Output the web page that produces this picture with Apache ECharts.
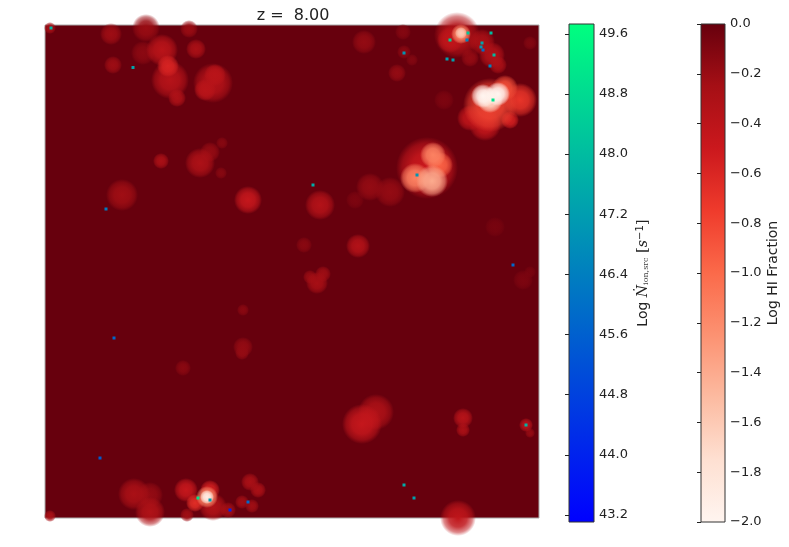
<!DOCTYPE html>
<html>
<head>
<meta charset="utf-8">
<title>z = 8.00</title>
<style>html,body{margin:0;padding:0;background:#fff}#main{width:789px;height:547px}</style>
<script src="https://cdn.jsdelivr.net/npm/echarts@6/dist/echarts.min.js"></script>
</head>
<body>
<div id="main"></div>
<script>
	// ionised bubbles: x, y, radius, log HI fraction (picture coordinates)
	var hiBubbles = [
		[50,28,6,-0.25],[111,34,11,-0.22],[146,28,14,-0.2],[189,29,9,-0.2],[113,65,9,-0.22],
		[143,53,12,-0.15],[162,50,16,-0.38],[170,80,19,-0.36],[168,66,11,-0.58],[177,98,9,-0.3],[196,49,10,-0.28],
		[213,83,20,-0.34],[215,75,11,-0.38],[205,90,11,-0.38],[161,161,8,-0.28],[200,163,15,-0.3],
		[210,152,10,-0.18],[222,143,6,-0.13],[221,173,6,-0.13],[364,42,12,-0.18],[403,32,8,-0.12],
		[404,52,7,-0.14],[412,60,6,-0.11],[397,73,9,-0.18],[457,35,23,-0.35],[450,40,13,-0.42],
		[461,34,10,-1.2],[461,33,6,-1.6],[482,42,13,-0.28],[492,55,13,-0.33],[498,65,9,-0.28],
		[470,58,9,-0.18],[530,43,7,-0.11],[444,100,10,-0.09],[490,105,27,-0.8],[520,100,17,-0.7],
		[505,88,13,-0.85],[485,125,16,-0.45],[470,118,13,-0.42],[510,120,9,-0.55],[483,96,12,-2.0],[498,94,12,-2.0],[490,100,13,-1.7],
		[427,168,31,-0.5],[433,155,13,-1.15],[415,178,15,-1.15],[432,181,16,-1.4],[440,165,13,-0.95],
		[370,187,14,-0.18],[390,192,15,-0.18],[355,200,9,-0.09],[320,205,15,-0.34],[358,246,12,-0.34],
		[304,245,8,-0.14],[317,283,11,-0.26],[323,274,8,-0.22],[310,277,7,-0.2],[495,227,10,-0.07],
		[523,280,10,-0.09],[530,272,6,-0.07],[122,195,16,-0.23],[248,200,14,-0.46],[243,310,6,-0.14],
		[243,347,10,-0.18],[183,368,8,-0.14],[242,353,7,-0.18],[134,494,16,-0.28],[150,495,13,-0.18],
		[150,512,15,-0.32],[50,516,6,-0.28],[186,490,12,-0.46],[210,490,10,-0.55],[195,503,9,-0.65],
		[207,497,11,-1.2],[207,497,7,-1.9],[213,507,14,-0.32],[228,510,8,-0.23],[250,482,9,-0.28],
		[258,490,8,-0.28],[242,502,7,-0.23],[252,506,7,-0.23],[187,515,7,-0.23],[362,424,20,-0.46],
		[376,412,18,-0.3],[463,418,10,-0.36],[463,430,7,-0.28],[526,425,7,-0.36],[530,433,5,-0.18],[458,518,18,-0.42]
	];
	// ionising sources: x, y, log rate
	var sources = [
		[51,28,47.8],[133,67.5,47.4],[106,209,46.3],[114,338,45.8],[100,458,45.5],[198,498,49],
		[210,500,47.2],[230,510,44],[248,502,45.8],[313,185,47.6],[404,485,47.6],[414,498,47.3],
		[526,425,47.8],[513,265,45.8],[417,175,47],[404,53,47],[447,59,47.3],[453,60,47.3],
		[450,40,48.5],[468,33,48.3],[467,40,46.5],[491,33,48],[482,43,47.4],[481,47,47],
		[483,50,46],[494,55,48],[490,66,46.5],[493,100,49]
	];
	var ionTicks = [43.2,44,44.8,45.6,46.4,47.2,48,48.8,49.6];
	var hiTicks = [-2,-1.8,-1.6,-1.4,-1.2,-1,-0.8,-0.6,-0.4,-0.2,0];
	var ionRange = [43.107,49.73];
	var hiRange = [-2,0];
	var redStops = ['#fff5f0','#fee0d2','#fcbba1','#fc9272','#fb6a4a','#ef3b2c','#cb181d','#a50f15','#67000d'];
	var ionStops = ['#0000ff','#00ff7f'];

	var font = 'DejaVu Sans';

	function hexRgb(h) {
		return [parseInt(h.substr(1,2),16),parseInt(h.substr(3,2),16),parseInt(h.substr(5,2),16)];
	}
	function redAt(v) {
		var t = (v-hiRange[0])/(hiRange[1]-hiRange[0])*(redStops.length-1);
		var i = Math.min(Math.floor(t),redStops.length-2);
		var a = hexRgb(redStops[i]), b = hexRgb(redStops[i+1]), f = t-i;
		return [0,1,2].map(function(k) { return Math.round(a[k]+(b[k]-a[k])*f); }).join(',');
	}
	function bubbleItem(d) {
		var c = redAt(d[3]);
		return {
			value: d,
			symbolSize: d[2]*2,
			itemStyle: {
				opacity: 1,
				color: new echarts.graphic.RadialGradient(0.5,0.5,0.5,[
					{offset:0,color:'rgba('+c+',1)'},
					{offset:0.5,color:'rgba('+c+',0.85)'},
					{offset:0.8,color:'rgba('+c+',0.5)'},
					{offset:1,color:'rgba('+c+',0)'}
				])
			}
		};
	}
	function barGradient(stops) {
		return new echarts.graphic.LinearGradient(0,1,0,0,stops.map(function(c,i) {
			return {offset:i/(stops.length-1),color:c};
		}));
	}
	function colorBar(stops) {
		return function(params,api) {
			var a = api.coord([0,api.value(0)]), b = api.coord([1,api.value(1)]);
			return {type:'rect',shape:{x:a[0],y:b[1],width:b[0]-a[0],height:a[1]-b[1]},style:{fill:barGradient(stops),stroke:'#333',lineWidth:1}};
		};
	}
	function barAxis(gridIndex,range,ticks,name,rich) {
		return {
			type:'value',gridIndex:gridIndex,position:'right',min:range[0],max:range[1],z:5,
			splitLine:{show:false},
			axisLine:{show:false},
			axisTick:{show:true,inside:true,length:4,customValues:ticks,lineStyle:{color:'#222'}},
			axisLabel:{margin:5,fontFamily:font,fontSize:13,color:'#222',customValues:ticks,showMinLabel:true,showMaxLabel:true,
				formatter:function(v) { return v.toFixed(1).replace('-','\u2212'); }},
			name:name,nameLocation:'middle',nameRotate:90,nameGap:41,
			nameTextStyle:{fontFamily:font,fontSize:14,color:'#222',rich:rich||{}}
		};
	}

	var myChart = echarts.init(document.getElementById('main'),null,{renderer:'canvas'});
	var option = {
		animation:false,
		backgroundColor:'#fff',
		title:{text:'z =  8.00',left:288,top:3,textAlign:'center',textStyle:{fontFamily:font,fontSize:16,fontWeight:'normal',color:'#222'}},
		grid:[
			{left:45,top:25,width:494,height:493,show:true,backgroundColor:'#67000d',borderColor:'#aaa',borderWidth:1},
			{left:569,top:24,width:25,height:498,show:false},
			{left:701,top:24,width:24,height:498,show:false}
		],
		xAxis:[
			{type:'value',gridIndex:0,min:45,max:539,show:false},
			{type:'value',gridIndex:1,min:0,max:1,show:false},
			{type:'value',gridIndex:2,min:0,max:1,show:false}
		],
		yAxis:[
			{type:'value',gridIndex:0,min:25,max:518,inverse:true,show:false},
			barAxis(1,ionRange,ionTicks,'Log {n|\u1E44}{sub|ion,src} {b|[}{n|s}{sup|\u22121}{b|]}',{
				n:{fontFamily:'DejaVu Serif',fontStyle:'italic',fontSize:14,color:'#222'},
				sub:{fontFamily:'DejaVu Serif',fontSize:8,color:'#444',padding:[5,0,0,0]},
				sup:{fontFamily:font,fontSize:10,color:'#222',padding:[0,0,6,0]},
				b:{fontFamily:'DejaVu Serif',fontSize:15,color:'#222'}
			}),
			barAxis(2,hiRange,hiTicks,'Log HI Fraction')
		],
		visualMap:[{
			show:false,type:'continuous',seriesIndex:1,dimension:2,min:ionRange[0],max:ionRange[1],
			inRange:{color:ionStops}
		}],
		series:[
			{
				type:'scatter',xAxisIndex:0,yAxisIndex:0,silent:true,clip:true,z:2,
				// brightest last so cores sit on top
				data:hiBubbles.slice().sort(function(a,b) { return b[3]-a[3]; }).map(bubbleItem)
			},
			{
				type:'scatter',xAxisIndex:0,yAxisIndex:0,silent:true,clip:true,z:3,
				symbol:'rect',symbolSize:3,itemStyle:{opacity:1},data:sources
			},
			{
				type:'custom',xAxisIndex:1,yAxisIndex:1,silent:true,z:1,
				renderItem:colorBar(ionStops),data:[ionRange]
			},
			{
				type:'custom',xAxisIndex:2,yAxisIndex:2,silent:true,z:1,
				renderItem:colorBar(redStops),data:[hiRange]
			}
		]
	};
	myChart.setOption(option);
</script>
</body>
</html>
